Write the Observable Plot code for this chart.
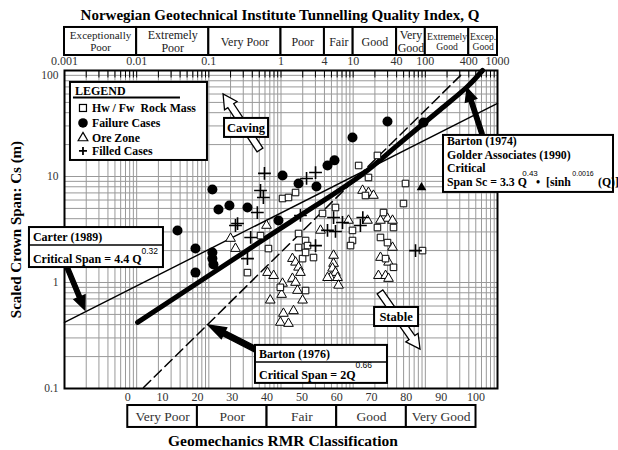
<!DOCTYPE html>
<html><head><meta charset="utf-8">
<script src="https://cdn.jsdelivr.net/npm/d3@7"></script>
<script src="https://cdn.jsdelivr.net/npm/@observablehq/plot@0.6"></script>
<style>body{margin:0;background:#fff}</style>
</head><body><div id="chart"></div>
<script>
// ---------- data (Q = tunnelling quality index, S = scaled crown span, m) ----------
const hwFw = [[21.7,15.8],[11.9,12.7],[53.1,8.59],[49.8,5.56],[26.3,4.57],[23.9,2.66],[9.79,2.49],[9.19,2.23],
  [36.2,3.30],[21.7,3.30],[29.9,2.38],[36.2,1.39],[28.1,1.68],[91.4,2.00],[16.3,9.79],[14.8,6.62],[2.19,2.49],
  [2.82,1.72],[0.52,2.77],[0.98,0.90],[2.19,0.84],[0.343,1.24],[1.99,1.68],[1.05,6.2],[5.69,5.10],[3.76,4.48],
  [0.67,2.09],[9.79,3.10],[1.75,2.90],[2.33,2.23],[1.75,2.14],[2.19,1.92],[1.27,6.34],[1.59,7.06]];
const failure = [[0.0368,3.10],[0.0653,2.09],[0.0653,1.24],[0.112,1.92],[0.112,1.68],[0.116,1.48],[0.112,7.54],
  [0.136,4.88],[0.193,5.33],[0.343,5.10],[0.923,3.85],[1.05,10.2],[1.75,8.59],[3.10,8.05],[4.41,12.7],[5.51,14.2],
  [9.79,23.3],[29.9,33.0],[94.4,32.3]];
const oreZone = [[0.200,2.60],[0.234,2.09],[0.65,1.24],[0.79,1.16],[1.05,0.98],[1.02,0.77],[1.08,0.51],[0.98,0.42],
  [1.27,0.41],[1.44,1.68],[1.59,1.55],[1.75,1.39],[1.86,1.24],[1.44,1.09],[1.59,1.00],[1.69,0.84],[1.99,0.68],
  [1.49,0.54],[3.53,3.10],[5.35,1.80],[5.35,1.51],[5.18,1.36],[5.69,1.24],[4.85,1.11],[6.07,1.11],[4.41,1.11],
  [6.27,0.94],[35.1,2.14],[22.4,1.16],[28.1,1.16],[30.9,1.09],[30.9,1.55],[23.9,1.72],[13.5,7.38],[16.3,7.06],
  [19.1,6.62],[29.9,4.02],[23.9,3.85],[35.1,3.85],[15.8,3.85],[8.61,3.85],[0.63,3.45],[0.71,0.68]];
const filledCases = [[0.59,10.7],[0.52,7.38],[0.57,6.34],[0.47,4.57],[0.25,3.6],[0.38,2.66],[0.234,3.45],[0.343,1.68],
  [3.01,10.9],[3.01,2.23],[4.41,3.10],[5.69,3.03],[73.1,2.00],[5.35,4.10],[1.86,4.29],[7.11,3.68],[12.6,3.45],
  [2.26,9.58],[13.6,4.10]];
const filledTriangle = [[88.5,7.87]];

const carterLine = [[0.001,0.42],[1000,48.9]];
const golderLine = [[0.0103,0.42],[0.894,3.10],[1.86,4.29],[13.9,10.7],[45.3,20.9],[162,42.9],[384,70.6],[620,100]];
const barton76Line = [[0.01245,0.102],[338,95.7]];

const qClassBounds = [0.001,0.01,0.1,1,4,10,40,100,400,1000];
const qClassLabels = ["Exceptionally\nPoor","Extremely\nPoor","Very Poor","Poor","Fair","Good","Very\nGood","Extremely\nGood","Excep.\nGood"];
const qTicks = [0.001,0.01,0.1,1,4,10,40,100,400,1000];
const sTicks = [0.1,1,10,100];
const rmrTicks = [0,10,20,30,40,50,60,70,80,90,100];
const rmrClassBounds = [0,20,40,60,80,100];
const rmrClassLabels = ["Very Poor","Poor","Fair","Good","Very Good"];

// ---------- helpers ----------
const SERIF = "'Liberation Serif','Times New Roman',serif";
const SANS = "'Liberation Sans',Arial,sans-serif";
const rmrToQ = r => Math.exp((r - 44) / 9); // Bieniawski RMR = 9 ln Q + 44
const gridX = []; for (let e = -3; e <= 2; e++) for (let k = 1; k <= 9; k++) gridX.push(k * Math.pow(10, e)); gridX.push(1000);
const gridY = []; for (let e = -1; e <= 1; e++) for (let k = 1; k <= 9; k++) gridY.push(k * Math.pow(10, e)); gridY.push(100);
const xy = {x: d => d[0], y: d => d[1]};

// Above/below the frame, in the y (span) scale
const HDR_TOP = 254.6, HDR_BOT = 138.5, HDR_MID = 188, QTICK_Y = 121.6;
const RMR_TICK_Y = 0.0822, RMR_TOP = 0.0691, RMR_BOT = 0.0429, RMR_MID = 0.0544;

function annotations(index, scales) {
  const X = scales.x, Y = scales.y;
  const g = d3.create("svg:g").attr("font-family", SERIF).attr("font-weight", "bold").attr("font-size", 12).attr("fill", "black");
  const at = ([q, s]) => [X(q), Y(s)];
  function arrow(tail, tip, fill, shaftW, headW, headL) {
    const [x0, y0] = at(tail), [x1, y1] = at(tip);
    const dx = x1 - x0, dy = y1 - y0, L = Math.hypot(dx, dy), ux = dx / L, uy = dy / L, nx = -uy, ny = ux;
    const bx = x1 - ux * headL, by = y1 - uy * headL;
    const p = [[x0 + nx * shaftW / 2, y0 + ny * shaftW / 2], [bx + nx * shaftW / 2, by + ny * shaftW / 2],
      [bx + nx * headW / 2, by + ny * headW / 2], [x1, y1], [bx - nx * headW / 2, by - ny * headW / 2],
      [bx - nx * shaftW / 2, by - ny * shaftW / 2], [x0 - nx * shaftW / 2, y0 - ny * shaftW / 2]];
    g.append("path").attr("d", "M" + p.map(d => d.join(",")).join("L") + "Z")
      .attr("fill", fill).attr("stroke", "black").attr("stroke-width", 1.3);
  }
  function box(anchor, w, h) {
    const [x, y] = at(anchor);
    g.append("rect").attr("x", x).attr("y", y).attr("width", w).attr("height", h)
      .attr("fill", "white").attr("stroke", "black").attr("stroke-width", 2);
    return [x, y];
  }
  function hline(x1, x2, y, w) {
    g.append("line").attr("x1", x1).attr("x2", x2).attr("y1", y).attr("y2", y).attr("stroke", "black").attr("stroke-width", w);
  }
  function txt(x, y, s, anchor = "start", size = 12) {
    return g.append("text").attr("x", x).attr("y", y).attr("text-anchor", anchor).attr("font-size", size)
      .style("white-space", "pre").text(s);
  }
  function sup(t, s, dy, size) {
    t.append("tspan").attr("dy", -dy).attr("font-size", size).attr("font-family", SANS).attr("font-weight", "normal").text(s);
  }

  // arrows
  arrow([0.52, 17.6], [0.160, 59.4], "white", 7, 15, 14);      // caving
  arrow([23.9, 0.805], [85.7, 0.233], "white", 7, 15, 14);     // stable
  arrow([0.00110, 1.385], [0.00195, 0.544], "black", 4.5, 12, 14); // Carter
  arrow([0.472, 0.228], [0.0989, 0.393], "black", 5.5, 12, 18);   // Barton 1976
  arrow([620, 24.9], [384, 67.6], "black", 4.5, 12, 13);         // Barton 1974

  // legend
  const [lx, ly] = box([0.00121, 77.1], 137, 78);
  txt(lx + 5, ly + 13.5, "LEGEND");
  hline(lx + 3, lx + 110, ly + 15.5, 2);
  const rows = [26, 41, 56, 69];
  const sx = lx + 13;
  g.append("rect").attr("x", sx - 3.5).attr("y", ly + rows[0] - 3.5).attr("width", 7).attr("height", 7).attr("fill", "white").attr("stroke", "black").attr("stroke-width", 1.2);
  g.append("circle").attr("cx", sx).attr("cy", ly + rows[1]).attr("r", 4.8).attr("fill", "black");
  g.append("path").attr("transform", `translate(${sx},${ly + rows[2]})`).attr("d", d3.symbol(d3.symbolTriangle, 3.6 * 3.6 * Math.PI)()).attr("fill", "white").attr("stroke", "black").attr("stroke-width", 1.2);
  g.append("path").attr("transform", `translate(${sx},${ly + rows[3]})`).attr("d", "M-4,0H4M0,-4V4").attr("stroke", "black").attr("stroke-width", 1.8);
  ["Hw / Fw  Rock Mass", "Failure Cases", "Ore Zone", "Filled Cases"].forEach((s, i) => txt(lx + 22, ly + rows[i] + 4.5, s, "start", 11.8));

  // caving / stable
  const [cx, cy] = box([0.165, 35.3], 44, 19); txt(cx + 22, cy + 14, "Caving", "middle", 12.5);
  const [tx, ty] = box([19.8, 0.581], 44, 19); txt(tx + 22, ty + 14, "Stable", "middle", 12.5);

  // Carter (1989)
  const [ax, ay] = box([0.000327, 3.30], 134, 40);
  hline(ax, ax + 134, ay + 18, 1.5);
  txt(ax + 4, ay + 14, "Carter (1989)");
  sup(txt(ax + 4, ay + 35.5, "Critical Span = 4.4 Q"), "0.32", 9, 8.5);

  // Barton (1976)
  const [bx, by] = box([0.443, 0.255], 132, 38);
  hline(bx, bx + 132, by + 17, 1.5);
  txt(bx + 4, by + 13.5, "Barton (1976)");
  sup(txt(bx + 4, by + 34, "Critical Span = 2Q"), "0.66", 11, 8.5);

  // Barton (1974) / Golder (1990)
  const [gx, gy] = box([178.6, 24.4], 170, 57);
  txt(gx + 4, gy + 10.5, "Barton (1974)", "start", 11.8);
  txt(gx + 4, gy + 24.5, "Golder Associates (1990)", "start", 11.8);
  txt(gx + 4, gy + 37, "Critical", "start", 11.8);
  txt(gx + 4, gy + 51.5, "Span Sc = 3.3 Q", "start", 11.8);
  txt(gx + 93, gy + 51.5, "•", "start", 11.8);
  txt(gx + 103, gy + 51.5, "[sinh", "start", 11.8);
  txt(gx + 155, gy + 51.5, "(Q)]", "start", 11.8);
  g.append("text").attr("x", gx + 87).attr("y", gy + 41).attr("font-size", 8).attr("font-family", SANS).attr("font-weight", "normal").text("0.43");
  g.append("text").attr("x", gx + 140).attr("y", gy + 41).attr("font-size", 7).attr("font-family", SANS).attr("font-weight", "normal").text("0.0016");
  return g.node();
}

const sTickStyle = {x: 0.001, y: d => d, text: d => String(d), dx: -6, textAnchor: "end", fontSize: 11.5, fill: "#333"};

const chart = Plot.plot({
  width: 618, height: 450,
  marginLeft: 64, marginRight: 121, marginTop: 70, marginBottom: 62,
  x: {type: "log", domain: [0.001, 1000], axis: null},
  y: {type: "log", domain: [0.1, 100], axis: null},
  style: {fontFamily: SERIF, background: "white"},
  marks: [
    Plot.ruleX(gridX, {stroke: "#999", strokeWidth: 1}),
    Plot.ruleY(gridY, {stroke: "#999", strokeWidth: 1}),
    Plot.ruleX(gridX, {y1: 100, y2: 85, stroke: "#000", strokeWidth: 1}),
    // header: Q classes
    Plot.rect(qClassLabels, {x1: (d, i) => qClassBounds[i], x2: (d, i) => qClassBounds[i + 1], y1: HDR_TOP, y2: HDR_BOT,
      fill: "white", stroke: "black", strokeWidth: 2}),
    Plot.text(qClassLabels, {x: (d, i) => Math.sqrt(qClassBounds[i] * qClassBounds[i + 1]), y: HDR_MID, text: d => d,
      lineHeight: 1.1, fill: "#222",
      fontSize: (d, i) => Math.min(12, 72 * Math.log10(qClassBounds[i + 1] / qClassBounds[i]) / (0.5 * d3.max(d.split("\n"), s => s.length)))}),
    Plot.text(qTicks, {x: d => d, y: QTICK_Y, text: d => String(d), fontSize: 12, fill: "#333"}),
    Plot.text(sTicks, {...sTickStyle, filter: d => d !== 100}),
    Plot.text(sTicks, {...sTickStyle, filter: d => d === 100, dy: 5}),
    Plot.text(["Norwegian Geotechnical Institute Tunnelling Quality Index, Q"], {frameAnchor: "top", lineAnchor: "middle", dy: -55, dx: -1, text: d => d, fontSize: 15, fontWeight: "bold"}),
    Plot.text(["Scaled Crown Span: Cs (m)"], {frameAnchor: "left", lineAnchor: "middle", textAnchor: "middle", dx: -48, rotate: -90, text: d => d, fontSize: 15, fontWeight: "bold"}),
    // footer: RMR
    Plot.text(rmrTicks, {x: r => rmrToQ(r), y: RMR_TICK_Y, text: d => String(d), fontSize: 12, fill: "#333"}),
    Plot.rect(rmrClassLabels, {x1: (d, i) => rmrToQ(rmrClassBounds[i]), x2: (d, i) => rmrToQ(rmrClassBounds[i + 1]), y1: RMR_TOP, y2: RMR_BOT,
      fill: "white", stroke: "black", strokeWidth: 2}),
    Plot.text(rmrClassLabels, {x: (d, i) => rmrToQ((rmrClassBounds[i] + rmrClassBounds[i + 1]) / 2), y: RMR_MID, text: d => d, fontSize: 13.5, fill: "#333"}),
    Plot.text(["Geomechanics RMR Classification"], {frameAnchor: "bottom", lineAnchor: "middle", dy: 53, dx: 2, text: d => d, fontSize: 15.5, fontWeight: "bold"}),
    // design lines
    Plot.line(carterLine, {...xy, stroke: "black", strokeWidth: 1.4}),
    Plot.line(barton76Line, {...xy, stroke: "black", strokeWidth: 1.5, strokeDasharray: "10,5"}),
    Plot.line(golderLine, {...xy, stroke: "black", strokeWidth: 5, curve: "catmull-rom"}),
    // case data
    Plot.dot(oreZone, {...xy, symbol: "triangle", r: 3.6, stroke: "black", fill: "white", strokeWidth: 1}),
    Plot.dot(hwFw, {...xy, symbol: "square", r: 3.7, stroke: "black", fill: "white", strokeWidth: 1}),
    Plot.dot(filledCases, {...xy, symbol: "plus", r: 4.2, stroke: "black", strokeWidth: 1.6}),
    Plot.dot(failure, {...xy, symbol: "circle", r: 5, fill: "black"}),
    Plot.dot(filledTriangle, {...xy, symbol: "triangle", r: 3.6, fill: "black"}),
    Plot.frame({stroke: "black", strokeWidth: 2}),
    annotations
  ]
});
document.getElementById("chart").appendChild(chart);
</script>
</body></html>
